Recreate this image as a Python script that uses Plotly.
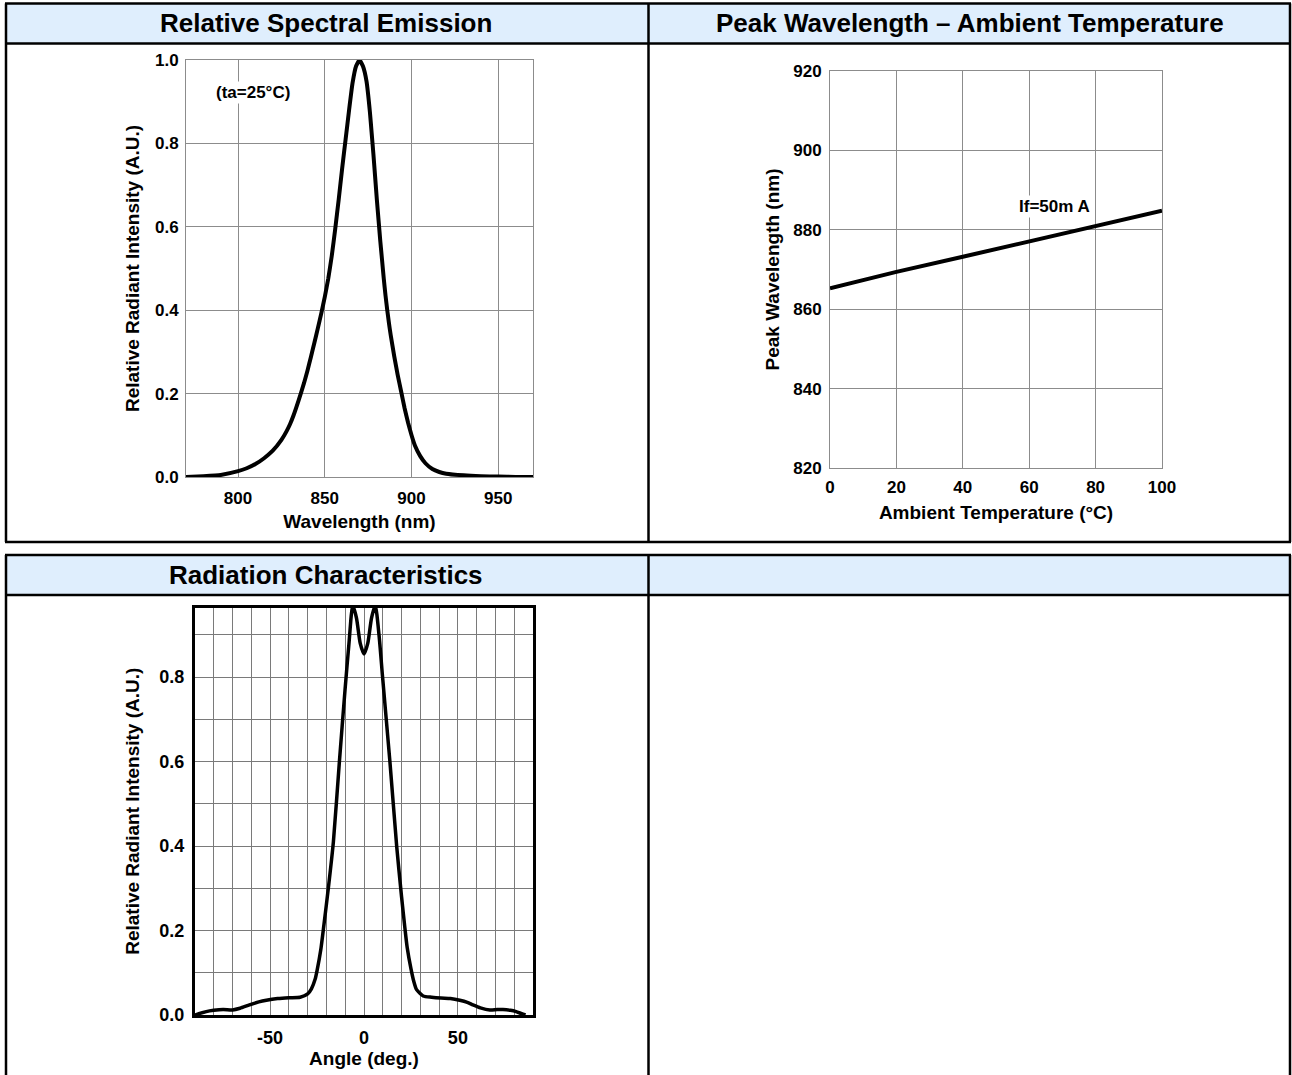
import plotly.graph_objects as go

# ---------------- data ----------------
wavelength_nm = [770, 780, 790, 800, 805, 810, 815, 820, 825, 828, 830, 832, 835, 838, 840, 842,
                 844, 846, 848, 850, 852, 854, 856, 858, 860, 862, 864, 866, 868, 870, 872, 874,
                 876, 877, 878, 879, 880, 881, 882, 883, 884, 885, 886, 887, 888, 890, 892, 894,
                 896, 898, 900, 902, 905, 908, 912, 916, 920, 930, 940, 950, 960, 970]
spectral_intensity = [0.0, 0.002, 0.005, 0.014, 0.021, 0.031, 0.045, 0.063, 0.089, 0.11, 0.127,
                      0.148, 0.185, 0.225, 0.255, 0.288, 0.322, 0.357, 0.393, 0.432, 0.476, 0.53,
                      0.595, 0.665, 0.74, 0.81, 0.88, 0.945, 0.985, 1.0, 0.985, 0.95, 0.875,
                      0.825, 0.775, 0.72, 0.665, 0.615, 0.565, 0.52, 0.475, 0.435, 0.4, 0.368,
                      0.34, 0.29, 0.245, 0.205, 0.165, 0.13, 0.1, 0.075, 0.05, 0.033, 0.019,
                      0.012, 0.008, 0.004, 0.002, 0.001, 0.0, 0.0]

ambient_temp_c = [0, 20, 40, 60, 80, 100]
peak_wavelength_nm = [865.3, 869.4, 873.2, 877.1, 881.0, 884.8]

angle_deg = [-90, -88, -84, -80, -75, -70, -66, -61, -56, -52, -46, -40, -34, -30, -28, -26,
             -25, -23, -21.3, -19, -16.3, -13.1, -10.1, -8, -6, -4, -2, 0, 2, 4, 6, 8, 9.9,
             13.8, 17.4, 20, 21.8, 23, 25, 26.5, 28, 31.5, 36, 41, 46, 51, 55, 58, 62, 67, 71,
             74, 78, 81, 84, 86]
radiant_intensity = [0.0, 0.003, 0.008, 0.011, 0.013, 0.012, 0.016, 0.024, 0.031, 0.035, 0.039,
                     0.041, 0.042, 0.05, 0.062, 0.085, 0.105, 0.155, 0.215, 0.3, 0.41, 0.6, 0.77,
                     0.88, 0.97, 0.94, 0.88, 0.855, 0.88, 0.94, 0.97, 0.9, 0.8, 0.6, 0.4, 0.28,
                     0.205, 0.16, 0.11, 0.08, 0.06, 0.045, 0.042, 0.04, 0.039, 0.035, 0.03, 0.024,
                     0.017, 0.012, 0.013, 0.013, 0.011, 0.008, 0.003, 0.0]

panel_titles = ["Relative Spectral Emission", "Peak Wavelength – Ambient Temperature",
                "Radiation Characteristics", ""]
angle_grid = list(range(-90, 91, 10))
angle_labels = ["-50" if v == -50 else ("0" if v == 0 else ("50" if v == 50 else "")) for v in angle_grid]
rad_grid = [0.0, 0.1, 0.2, 0.3, 0.4, 0.5, 0.6, 0.7, 0.8, 0.9]
rad_labels = ["0.0", "", "0.2", "", "0.4", "", "0.6", "", "0.8", ""]

# ---------------- layout helpers ----------------
W, H = 1292, 1075
def fx(px):
    return px / W
def fy(py):
    return 1 - py / H

FONT = "Liberation Sans, Arial, sans-serif"
GRID = "#8c8c8c"
GRID3 = "#7a7a7a"

fig = go.Figure()
fig.add_trace(go.Scatter(x=wavelength_nm, y=spectral_intensity, mode="lines",
                         line=dict(color="black", width=4, shape="spline", smoothing=0.4),
                         xaxis="x", yaxis="y", hoverinfo="skip"))
fig.add_trace(go.Scatter(x=ambient_temp_c, y=peak_wavelength_nm, mode="lines",
                         line=dict(color="black", width=4),
                         xaxis="x2", yaxis="y2", hoverinfo="skip"))
fig.add_trace(go.Scatter(x=angle_deg, y=radiant_intensity, mode="lines",
                         line=dict(color="black", width=3.5, shape="spline", smoothing=0.6),
                         xaxis="x3", yaxis="y3", hoverinfo="skip"))

tickfont = dict(family=FONT, size=17, color="black", weight="bold")
tickfont3 = dict(family=FONT, size=18, color="black", weight="bold")
titlefont = dict(family=FONT, size=19, color="black", weight="bold")

common_thin = dict(showline=True, linecolor=GRID, linewidth=1, mirror=True, showgrid=True,
                   gridcolor=GRID, gridwidth=1, zeroline=False, ticks="", fixedrange=True)

fig.update_layout(
    autosize=True, margin=dict(l=0, r=0, t=0, b=0, autoexpand=False),
    paper_bgcolor="white", plot_bgcolor="white", showlegend=False,
    xaxis=dict(domain=[fx(186), fx(533)], range=[770, 970], tickvals=[800, 850, 900, 950],
               tickfont=tickfont, ticklabelstandoff=6, anchor="y",
               title=dict(text="Wavelength (nm)", font=titlefont, standoff=7), **common_thin),
    yaxis=dict(domain=[fy(477), fy(60)], range=[0, 1.0], tickvals=[0, 0.2, 0.4, 0.6, 0.8, 1.0],
               ticktext=["0.0", "0.2", "0.4", "0.6", "0.8", "1.0"], tickfont=tickfont,
               ticklabelstandoff=3, anchor="x",
               title=dict(text="Relative Radiant Intensity (A.U.)", font=titlefont, standoff=10),
               **common_thin),
    xaxis2=dict(domain=[fx(830), fx(1162)], range=[0, 100], tickvals=[0, 20, 40, 60, 80, 100],
                tickfont=tickfont, ticklabelstandoff=3, anchor="y2",
                title=dict(text="Ambient Temperature (°C)", font=titlefont, standoff=9),
                **common_thin),
    yaxis2=dict(domain=[fy(468.3), fy(70.7)], range=[820, 920],
                tickvals=[820, 840, 860, 880, 900, 920], tickfont=tickfont,
                ticklabelstandoff=4, anchor="x2",
                title=dict(text="Peak Wavelength (nm)", font=titlefont, standoff=8),
                **common_thin),
    xaxis3=dict(domain=[fx(195), fx(533)], range=[-90, 90], tickvals=angle_grid,
                ticktext=angle_labels, tickfont=tickfont3, ticklabelstandoff=4, anchor="y3",
                showline=True, linecolor="black", linewidth=3, mirror=True, showgrid=True,
                gridcolor=GRID3, gridwidth=1, zeroline=False, ticks="", fixedrange=True,
                title=dict(text="Angle (deg.)", font=dict(family=FONT, size=19, color="black",
                                                          weight="bold"), standoff=2)),
    yaxis3=dict(domain=[fy(1015), fy(607.5)], range=[0, 0.965], tickvals=rad_grid,
                ticktext=rad_labels, tickfont=tickfont3, ticklabelstandoff=4, anchor="x3",
                showline=True, linecolor="black", linewidth=3, mirror=True, showgrid=True,
                gridcolor=GRID3, gridwidth=1, zeroline=False, ticks="", fixedrange=True,
                title=dict(text="Relative Radiant Intensity (A.U.)", font=titlefont, standoff=15)),
)

# ---------------- table frame ----------------
shapes = []
HEADER_FILL = "#dfeefd"
left, mid, right = 6, 648.5, 1290
for top, hb, bottom in [(3.5, 43.5, 542), (555, 595, 1085)]:
    shapes.append(dict(type="rect", xref="paper", yref="paper", x0=fx(left), x1=fx(right),
                       y0=fy(hb), y1=fy(top), fillcolor=HEADER_FILL, line=dict(width=0),
                       layer="below"))
    for y in (top, hb, bottom):
        shapes.append(dict(type="line", xref="paper", yref="paper", x0=fx(left - 1), x1=fx(right + 1),
                           y0=fy(y), y1=fy(y), line=dict(color="black", width=2.5)))
    for x in (left, mid, right):
        shapes.append(dict(type="line", xref="paper", yref="paper", x0=fx(x), x1=fx(x),
                           y0=fy(bottom), y1=fy(top), line=dict(color="black", width=2.5)))
fig.update_layout(shapes=shapes)

headfont = dict(family=FONT, size=26, color="black", weight="bold")
annotations = [
    dict(text=panel_titles[0], x=fx(326.5), y=fy(23.5), xref="paper", yref="paper",
         showarrow=False, font=headfont, xanchor="center", yanchor="middle"),
    dict(text=panel_titles[1], x=fx(970), y=fy(23.5), xref="paper", yref="paper",
         showarrow=False, font=headfont, xanchor="center", yanchor="middle"),
    dict(text=panel_titles[2], x=fx(326.5), y=fy(575), xref="paper", yref="paper",
         showarrow=False, font=headfont, xanchor="center", yanchor="middle"),
    dict(text="(ta=25°C)", x=808.7, y=0.921, xref="x", yref="y", showarrow=False,
         font=dict(family=FONT, size=17, color="black", weight="bold"), bgcolor="white"),
    dict(text="If=50m A", x=67.5, y=885.8, xref="x2", yref="y2", showarrow=False,
         font=dict(family=FONT, size=17, color="black", weight="bold"), bgcolor="white"),
]
fig.update_layout(annotations=annotations)

fig.write_html("out.html",
               config={"displayModeBar": False},
               default_width="%dpx; position:absolute; left:0px; top:0px" % W,
               default_height="%dpx" % H,
               post_script="document.body.style.margin='0';")
